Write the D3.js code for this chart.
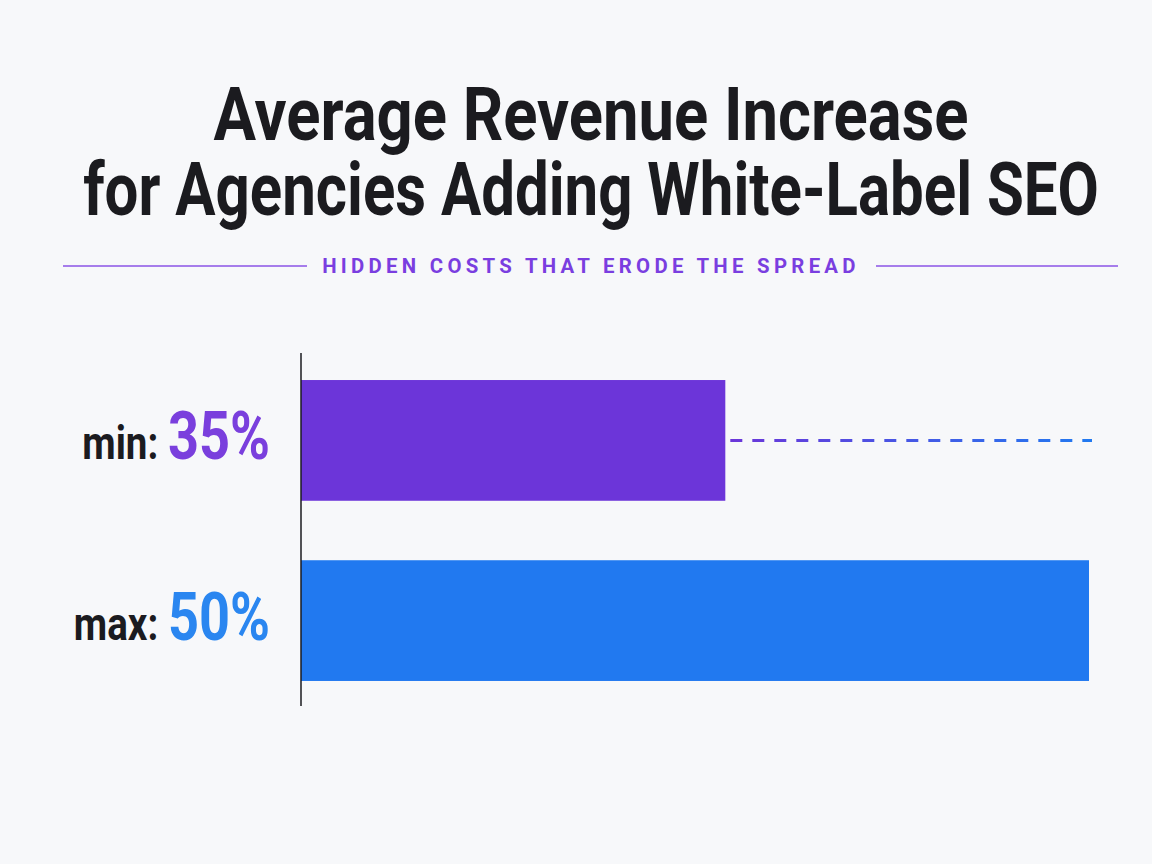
<!DOCTYPE html>
<html lang="en">
<head>
  <meta charset="UTF-8">
  <title>Average Revenue Increase</title>
  <script src="https://cdn.jsdelivr.net/npm/d3@7"></script>
  <style>
    body { margin: 0; background: #f7f8fa; }
    svg { display: block; }
    .title { font-family: Roboto, sans-serif; font-weight: 700; fill: #1b1b1f; }
    .subtitle { font-family: Roboto, sans-serif; font-weight: 700; fill: #7a3ee0; letter-spacing: 4.2px; }
    .lbl { font-family: Roboto, sans-serif; font-weight: 700; }
  </style>
</head>
<body>
  <svg width="1152" height="864"></svg>
  <script>
    // values
    const categories = ['min', 'max'];
    const values = [35, 50];
    const barColors = ['#6c35d9', '#2179f0'];
    const labelColors = ['#7a3fdd', '#2a86f0'];
    const titleLines = ['Average Revenue Increase', 'for Agencies Adding White-Label SEO'];
    const subtitle = 'HIDDEN COSTS THAT ERODE THE SPREAD';

    const svg = d3.select('svg');
    const W = +svg.attr('width');
    const cx = 591;

    svg.append('rect').attr('width', W).attr('height', 864).attr('fill', '#f7f8fa');

    // squeeze a text horizontally to a target width, around cx
    function fitWidth(sel, target, yPos) {
      sel.each(function (d, i) {
        const t = typeof target === 'function' ? target(d, i) : target;
        const yy = typeof yPos === 'function' ? yPos(d, i) : yPos;
        const w = this.getComputedTextLength();
        d3.select(this).attr('transform', `translate(${cx},${yy}) scale(${t / w},1)`);
      });
    }

    // title
    const titleWidths = [755, 1016];
    svg.selectAll('.title')
      .data(titleLines)
      .enter()
      .append('text')
      .attr('class', 'title')
      .attr('text-anchor', 'middle')
      .attr('font-size', 74)
      .text(d => d)
      .call(fitWidth, (d, i) => titleWidths[i], (d, i) => 140 + i * 75);

    // subtitle with rules either side
    svg.append('text')
      .attr('class', 'subtitle')
      .attr('text-anchor', 'middle')
      .attr('font-size', 20)
      .text(subtitle)
      .call(fitWidth, 538, 273);

    [[63, 307], [876, 1118]].forEach(([a, b]) => {
      svg.append('line')
        .attr('x1', a).attr('x2', b)
        .attr('y1', 266).attr('y2', 266)
        .attr('stroke', '#8b55e6')
        .attr('stroke-width', 1.5);
    });

    // scales
    const x = d3.scaleLinear().domain([17.5, 50]).range([301, 1089]);
    const y = d3.scaleBand().domain(categories).range([353, 708])
      .paddingInner(0.33).paddingOuter(0.15);

    // bars
    svg.selectAll('.bar')
      .data(values)
      .enter()
      .append('rect')
      .attr('class', 'bar')
      .attr('x', x.range()[0])
      .attr('y', (d, i) => y(categories[i]))
      .attr('width', d => x(d) - x.range()[0])
      .attr('height', y.bandwidth())
      .attr('fill', (d, i) => barColors[i]);

    // axis line
    svg.append('line')
      .attr('x1', x.range()[0]).attr('x2', x.range()[0])
      .attr('y1', y.range()[0]).attr('y2', y.range()[1] - 2)
      .attr('stroke', '#1b1b1f')
      .attr('stroke-width', 1.5);

    // dashed gap line from min bar end to max value
    const defs = svg.append('defs');
    const grad = defs.append('linearGradient')
      .attr('id', 'gap')
      .attr('gradientUnits', 'userSpaceOnUse')
      .attr('x1', x(values[0])).attr('x2', x(values[1]))
      .attr('y1', 0).attr('y2', 0);
    grad.append('stop').attr('offset', '0%').attr('stop-color', barColors[0]);
    grad.append('stop').attr('offset', '100%').attr('stop-color', barColors[1]);

    const gy = y(categories[0]) + y.bandwidth() / 2;
    svg.append('line')
      .attr('x1', x(values[0]) + 5).attr('x2', x(values[1]) + 3)
      .attr('y1', gy).attr('y2', gy)
      .attr('stroke', 'url(#gap)')
      .attr('stroke-width', 3)
      .attr('stroke-dasharray', '12 10');

    // labels
    const labels = svg.selectAll('.lbl')
      .data(categories)
      .enter()
      .append('text')
      .attr('class', 'lbl')
      .attr('text-anchor', 'end')
      .attr('transform', d => `translate(${x.range()[0] - 31},${y(d) + y.bandwidth() / 2 + 19}) scale(0.82,1)`);

    labels.append('tspan')
      .attr('font-size', 47)
      .attr('fill', '#1b1b1f')
      .text(d => d + ': ');

    labels.append('tspan')
      .attr('font-size', 66)
      .attr('fill', (d, i) => labelColors[i])
      .text((d, i) => values[i] + '%');
  </script>
</body>
</html>
